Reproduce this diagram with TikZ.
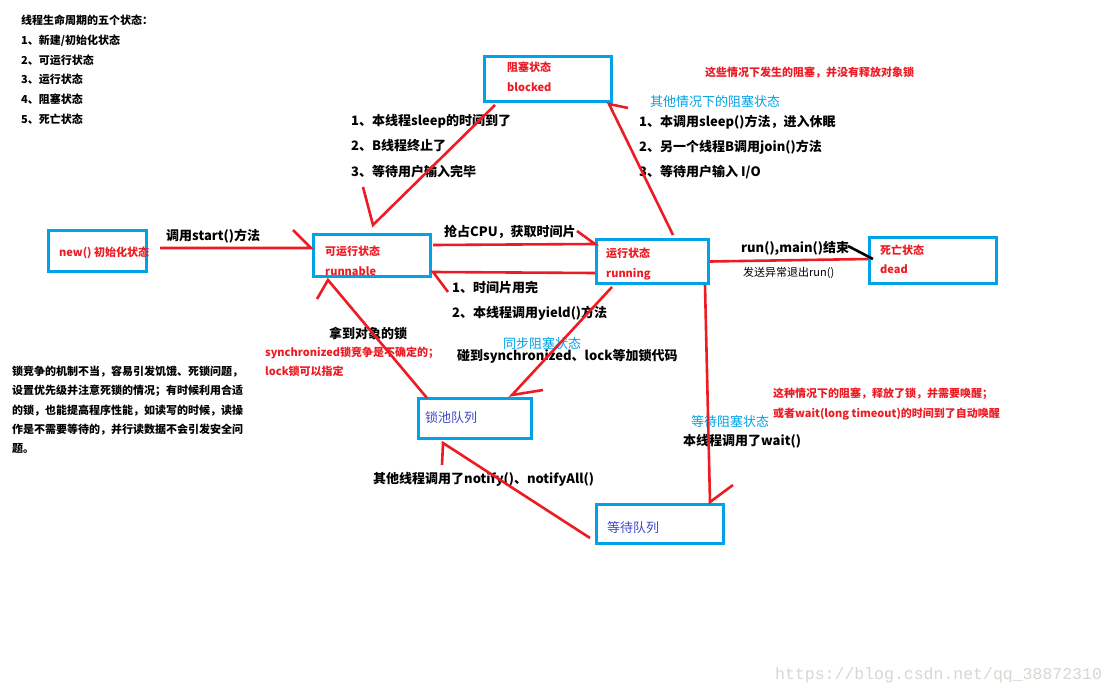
\documentclass[tikz,border=0pt]{standalone}
\usepackage{fontspec}
\setmainfont{Noto Sans CJK SC}
\newfontfamily\wmfont{Liberation Mono}
\definecolor{pblue}{RGB}{0,162,232}
\definecolor{pred}{RGB}{237,28,36}
\definecolor{pindigo}{RGB}{63,72,204}
\definecolor{wmgray}{RGB}{218,214,208}
\begin{document}
\begin{tikzpicture}[x=1pt,y=-1pt,
  box/.style={draw=pblue, line width=3pt, inner sep=0pt},
  redline/.style={draw=pred, line width=2.6pt, line join=miter},
  blackline/.style={draw=black, line width=2.6pt},
  txt/.style={anchor=west, inner sep=0pt, text height=0.88em, text depth=0.12em},
  lbl/.style={txt, font=\fontsize{13}{15}\selectfont\bfseries},
  note/.style={txt, text=pred, font=\fontsize{11}{13}\selectfont\bfseries},
  inbox/.style={txt, text=pred, font=\fontsize{11}{13}\selectfont\bfseries},
  bluelbl/.style={txt, text=pblue, font=\fontsize{13}{15}\selectfont},
  queue/.style={txt, text=pindigo, font=\fontsize{13}{15}\selectfont},
  plain/.style={txt, font=\fontsize{11}{13}\selectfont\bfseries},
  thin/.style={txt, font=\fontsize{11}{13}\selectfont}
]
\useasboundingbox[fill=white] (0,0) rectangle (1115,695);

% ---- boxes ----
\node[box, minimum width=98pt, minimum height=41pt] (new) at (97.5,251) {};
\node[box, minimum width=117pt, minimum height=42pt] (runnable) at (372,255.5) {};
\node[box, minimum width=127pt, minimum height=45pt] (blocked) at (548,79) {};
\node[box, minimum width=112pt, minimum height=44pt] (running) at (652.5,261.5) {};
\node[box, minimum width=127pt, minimum height=46pt] (dead) at (933,260.5) {};
\node[box, minimum width=113pt, minimum height=40pt] (lockpool) at (475,418.5) {};
\node[box, minimum width=127pt, minimum height=39pt] (waiting) at (660,524) {};

% ---- texts inside boxes ----
\node[inbox] (tnew) at (59,253) {new() 初始化状态};
\node[inbox] (trun1) at (325,252) {可运行状态};
\node[inbox] (trun2) at (325,272) {runnable};
\node[inbox] (tblk1) at (507,68) {阻塞状态};
\node[inbox] (tblk2) at (507,88) {blocked};
\node[inbox] (tring1) at (606,254) {运行状态};
\node[inbox] (tring2) at (606,274) {running};
\node[inbox] (tdead1) at (880,251) {死亡状态};
\node[inbox] (tdead2) at (880,270) {dead};
\node[queue] (tpool) at (425,419) {锁池队列};
\node[queue] (twait) at (607,529) {等待队列};

% ---- top-left list ----
\node[plain] (h0) at (21,21) {线程生命周期的五个状态：};
\node[plain] (h1) at (21,41) {1、新建/初始化状态};
\node[plain] (h2) at (21,61) {2、可运行状态};
\node[plain] (h3) at (21,80) {3、运行状态};
\node[plain] (h4) at (21,100) {4、阻塞状态};
\node[plain] (h5) at (21,120) {5、死亡状态};

% ---- left paragraph ----
\node[plain] (p1) at (12,372) {锁竞争的机制不当，容易引发饥饿、死锁问题，};
\node[plain] (p2) at (12,391) {设置优先级并注意死锁的情况；有时候利用合适};
\node[plain] (p3) at (12,411) {的锁，也能提高程序性能，如读写的时候，读操};
\node[plain] (p4) at (12,430) {作是不需要等待的，并行读数据不会引发安全问};
\node[plain] (p5) at (12,449) {题。};

% ---- connector labels ----
\node[lbl] (lstart) at (166,237) {调用start()方法};
\node[lbl] (lcpu) at (444,233) {抢占CPU，获取时间片};
\node[lbl] (ly1) at (452,289) {1、时间片用完};
\node[lbl] (ly2) at (452,314) {2、本线程调用yield()方法};
\node[lbl] (lb1) at (351,122) {1、本线程sleep的时间到了};
\node[lbl] (lb2) at (351,147) {2、B线程终止了};
\node[lbl] (lb3) at (351,173) {3、等待用户输入完毕};
\node[note] (nb) at (705,73) {这些情况下发生的阻塞，并没有释放对象锁};
\node[bluelbl] (lother) at (650,103) {其他情况下的阻塞状态};
\node[lbl] (lo1) at (639,123) {1、本调用sleep()方法，进入休眠};
\node[lbl] (lo2) at (639,148) {2、另一个线程B调用join()方法};
\node[lbl] (lo3) at (639,173) {3、等待用户输入 I/O};
\node[lbl] (lend) at (741,249) {run(),main()结束};
\node[thin] (lexc) at (743,273) {发送异常退出run()};
\node[bluelbl] (lsync) at (503,345) {同步阻塞状态};
\node[lbl] (lsync2) at (457,357) {碰到synchronized、lock等加锁代码};
\node[lbl] (lget) at (329,335) {拿到对象的锁};
\node[note] (nsync1) at (265,353) {synchronized锁竞争是不确定的；};
\node[note] (nsync2) at (265,372) {lock锁可以指定};
\node[note] (nwait1) at (773,394) {这种情况下的阻塞，释放了锁，并需要唤醒；};
\node[note] (nwait2) at (773,414) {或者wait(long timeout)的时间到了自动唤醒};
\node[bluelbl] (lwait) at (691,423) {等待阻塞状态};
\node[lbl] (lwait2) at (683,442) {本线程调用了wait()};
\node[lbl] (lnotify) at (373,480) {其他线程调用了notify()、notifyAll()};

% ---- connectors (tail -- tip -- arrow stroke) ----
\draw[redline] ([xshift=12pt,yshift=3pt]new.east) -- ([xshift=-1pt,yshift=7.5pt]runnable.west) -- ++(-18,-18);
\draw[redline] ([xshift=1pt,yshift=10.5pt]runnable.east) -- ([yshift=17.5pt]running.west) -- ++(-18,-13);
\draw[redline] ([yshift=-11.5pt]running.west) -- ([xshift=1pt,yshift=-16.5pt]runnable.east) -- ++(15,20);
\draw[redline] ([xshift=-53pt,yshift=-2pt]blocked.south) -- ([xshift=1pt,yshift=8pt]runnable.north) -- ++(-10,-38);
\draw[redline] ([xshift=20.5pt,yshift=3pt]running.north) -- ([xshift=-4pt,yshift=-1pt]blocked.south east) -- ++(19,4);
\draw[redline] (running.east) -- ([yshift=1.5pt]dead.west);
\draw[blackline] ([xshift=-20pt,yshift=14.5pt]dead.west) -- ([xshift=5pt,yshift=1.5pt]dead.west);
\draw[redline] ([xshift=-40.5pt,yshift=-2pt]running.south) -- ([xshift=-21pt,yshift=2pt]lockpool.north east) -- ++(31,-5);
\draw[redline] ([xshift=-48pt,yshift=-1pt]lockpool.north) -- ([xshift=-44pt,yshift=-2pt]runnable.south) -- ++(-11,19);
\draw[redline] ([xshift=-5pt]running.south east) -- ([xshift=50pt,yshift=1pt]waiting.north) -- ++(23,-17);
\draw[redline] ([xshift=-5pt,yshift=-14pt]waiting.west) -- ([xshift=-32pt,yshift=-3pt]lockpool.south) -- ++(-1,22);

% ---- watermark ----
\node[anchor=west, inner sep=0pt, text=wmgray, font=\wmfont\fontsize{16.5}{18}\selectfont] (wm) at (775,675) {https://blog.csdn.net/qq\_38872310};
\end{tikzpicture}
\end{document}
